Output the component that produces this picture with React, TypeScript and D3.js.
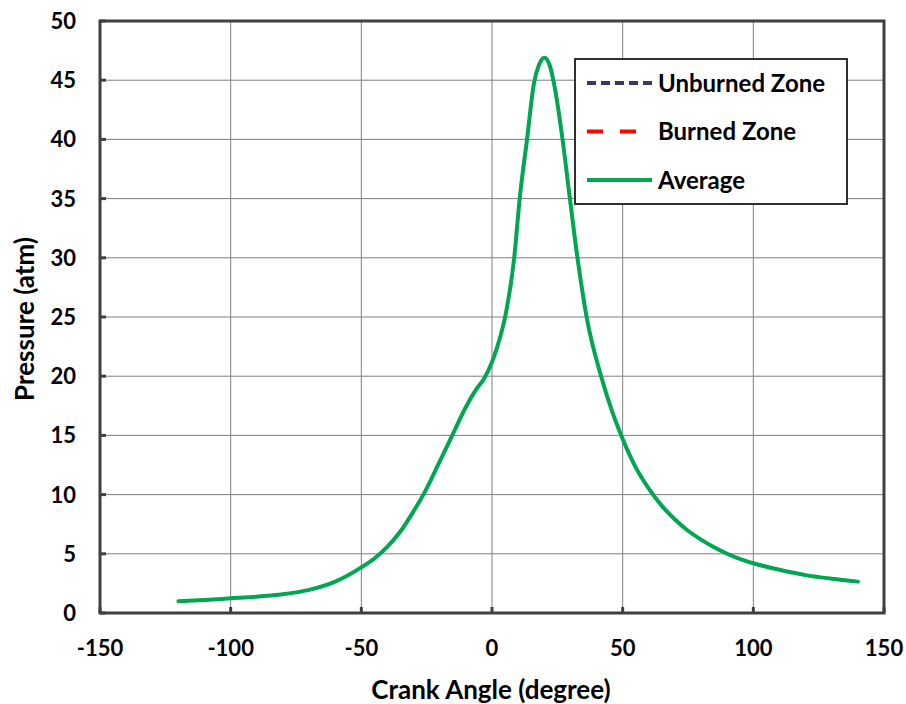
import React from "react";
import * as d3 from "d3";

const crankAngle = [-120, -110, -100, -90, -80, -70, -60, -50, -45, -40, -35, -30, -26, -20, -15, -10, -6, -3, 0, 3, 5.3, 8.5, 10.6, 13.4, 16.1, 18, 20, 22, 24, 27, 29.8, 32.7, 36.2, 42, 46, 50, 55, 60, 65, 70, 75, 80, 85, 90, 95, 100, 110, 120, 130, 140];
const averagePressure = [1.0, 1.1, 1.24, 1.38, 1.58, 1.95, 2.65, 3.85, 4.6, 5.6, 6.9, 8.6, 10.1, 12.8, 15.1, 17.4, 18.9, 19.8, 21.2, 23.2, 25.3, 30, 35, 40, 44.8, 46.3, 46.9, 46.3, 44.4, 40, 35, 30, 25, 19.8, 17.0, 14.7, 12.3, 10.5, 9.05, 7.9, 6.95, 6.2, 5.55, 5.0, 4.55, 4.2, 3.65, 3.2, 2.9, 2.65];
const xTicks = [-150, -100, -50, 0, 50, 100, 150];
const yTicks = [0, 5, 10, 15, 20, 25, 30, 35, 40, 45, 50];
const legendItems = [
  { label: "Unburned Zone", color: "#353a5e", dash: "9,5" },
  { label: "Burned Zone", color: "#ff0000", dash: "16,17" },
  { label: "Average", color: "#00a651", dash: "" },
];

const W = 906, H = 704;
const left = 100, right = 884, top = 21, bottom = 613;
const font = "Lato, 'Open Sans', sans-serif";

export default function App() {
  const x = d3.scaleLinear().domain([-150, 150]).range([left, right]);
  const y = d3.scaleLinear().domain([0, 50]).range([bottom, top]);
  const pts: [number, number][] = crankAngle.map((a, i) => [a, averagePressure[i]]);
  const line = d3.line<[number, number]>().x(d => x(d[0])).y(d => y(d[1])).curve(d3.curveMonotoneX);
  return (
    <svg width={W} height={H} style={{ position: "absolute", left: 0, top: 0, background: "#fff" }}>
      {xTicks.map(t => (
        <line key={"gx" + t} x1={x(t)} x2={x(t)} y1={top} y2={bottom} stroke="#7f7f7f" strokeWidth={1} />
      ))}
      {yTicks.map(t => (
        <line key={"gy" + t} x1={left} x2={right} y1={y(t)} y2={y(t)} stroke="#7f7f7f" strokeWidth={1} />
      ))}
      {xTicks.map(t => (
        <line key={"tx" + t} x1={x(t)} x2={x(t)} y1={bottom} y2={bottom - 6} stroke="#404040" strokeWidth={3} />
      ))}
      {yTicks.map(t => (
        <line key={"ty" + t} x1={left} x2={left + 6} y1={y(t)} y2={y(t)} stroke="#404040" strokeWidth={3} />
      ))}
      <path d={line(pts) || ""} fill="none" stroke="#00a651" strokeWidth={4} strokeLinejoin="round" strokeLinecap="round" />
      <rect x={left} y={top} width={right - left} height={bottom - top} fill="none" stroke="#404040" strokeWidth={3} />
      {yTicks.map(t => (
        <text key={"ly" + t} x={76} y={y(t)} dy="0.36em" textAnchor="end" fontFamily={font} fontWeight="bold" fontSize={22} fill="#000">{t}</text>
      ))}
      {xTicks.map(t => (
        <text key={"lx" + t} x={x(t)} y={648} dy="0.36em" textAnchor="middle" fontFamily={font} fontWeight="bold" fontSize={22} fill="#000">{t}</text>
      ))}
      <text x={491} y={699} textAnchor="middle" fontFamily={font} fontWeight="bold" fontSize={26} fill="#000">Crank Angle (degree)</text>
      <text transform={`translate(34,319) rotate(-90)`} textAnchor="middle" fontFamily={font} fontWeight="bold" fontSize={26} fill="#000">Pressure (atm)</text>
      <rect x={575} y={59} width={272} height={145} fill="#fff" stroke="#303030" strokeWidth={2} />
      {legendItems.map((it, i) => {
        const ly = 83 + i * 48.5;
        return (
          <g key={it.label}>
            <line x1={587} x2={652} y1={ly} y2={ly} stroke={it.color} strokeWidth={4} strokeDasharray={it.dash || undefined} />
            <text x={658} y={ly} dy="0.36em" fontFamily={font} fontWeight="bold" fontSize={24} fill="#000">{it.label}</text>
          </g>
        );
      })}
    </svg>
  );
}
